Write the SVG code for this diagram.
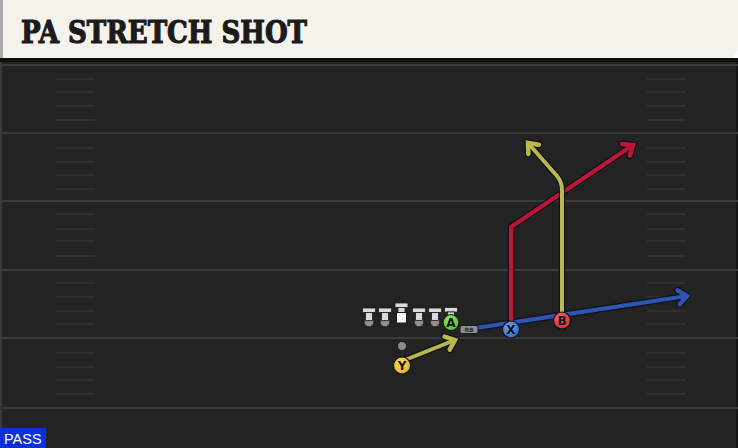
<svg xmlns="http://www.w3.org/2000/svg" width="738" height="448" viewBox="0 0 738 448">
<defs>
<style>
.yl{stroke:#3b3b3b;stroke-width:2}
.hm{stroke:#343434;stroke-width:1.6}
.ol{fill:none;stroke:#121212;stroke-width:6.5;stroke-linejoin:round}
.rt{fill:none;stroke-width:4;stroke-linejoin:round}
.lbl{font-family:"DejaVu Sans","Liberation Sans",sans-serif;font-weight:bold;font-size:12px;fill:#111;text-anchor:middle}
.tb{fill:#d9d9d9;stroke:#1a1a1a;stroke-width:0.8}
.tc{fill:#8e8e8e;stroke:#1a1a1a;stroke-width:0.8}
</style>
<marker id="ahK" viewBox="-14 -14 28 28" markerWidth="28" markerHeight="28" refX="0" refY="0" orient="auto" markerUnits="userSpaceOnUse"><path d="M-8.5,-7 L0,0 L-8.5,7" fill="none" stroke="#121212" stroke-width="7" stroke-linejoin="miter" stroke-linecap="round"/></marker>
<marker id="ahR" viewBox="-14 -14 28 28" markerWidth="28" markerHeight="28" refX="0" refY="0" orient="auto" markerUnits="userSpaceOnUse"><path d="M-8.5,-7 L0,0 L-8.5,7" fill="none" stroke="#c0143a" stroke-width="4.5" stroke-linejoin="miter" stroke-linecap="round"/></marker>
<marker id="ahY" viewBox="-14 -14 28 28" markerWidth="28" markerHeight="28" refX="0" refY="0" orient="auto" markerUnits="userSpaceOnUse"><path d="M-8.5,-7 L0,0 L-8.5,7" fill="none" stroke="#bab650" stroke-width="4.5" stroke-linejoin="miter" stroke-linecap="round"/></marker>
<marker id="ahB" viewBox="-14 -14 28 28" markerWidth="28" markerHeight="28" refX="0" refY="0" orient="auto" markerUnits="userSpaceOnUse"><path d="M-8.5,-7 L0,0 L-8.5,7" fill="none" stroke="#2d55b5" stroke-width="4.5" stroke-linejoin="miter" stroke-linecap="round"/></marker>
<radialGradient id="gX" cx="0.4" cy="0.35" r="0.7"><stop offset="0" stop-color="#6aa0f0"/><stop offset="1" stop-color="#2e66c8"/></radialGradient>
<radialGradient id="gB" cx="0.4" cy="0.35" r="0.7"><stop offset="0" stop-color="#f46a70"/><stop offset="1" stop-color="#d02a36"/></radialGradient>
<radialGradient id="gA" cx="0.4" cy="0.35" r="0.7"><stop offset="0" stop-color="#8ef060"/><stop offset="1" stop-color="#4cc02c"/></radialGradient>
<radialGradient id="gY" cx="0.4" cy="0.35" r="0.7"><stop offset="0" stop-color="#f8dc5a"/><stop offset="1" stop-color="#e0b420"/></radialGradient>
</defs>

<g id="field">
<rect x="0" y="58" width="738" height="390" fill="#232323"/>
<rect x="0" y="58" width="738" height="4" fill="#111"/>
<rect x="0" y="62" width="2" height="386" fill="#383838"/>
<rect x="736" y="62" width="2" height="386" fill="#151515"/>
<line class="yl" x1="0" y1="65" x2="738" y2="65"/>
<line class="yl" x1="0" y1="133" x2="738" y2="133"/>
<line class="yl" x1="0" y1="201" x2="738" y2="201"/>
<line class="yl" x1="0" y1="270" x2="738" y2="270"/>
<line class="yl" x1="0" y1="338" x2="738" y2="338"/>
<line class="yl" x1="0" y1="408" x2="738" y2="408"/>
<g id="hashes-left" class="hm">
<line x1="56" y1="79" x2="95" y2="79"/><line x1="56" y1="92" x2="95" y2="92"/><line x1="56" y1="106" x2="95" y2="106"/><line x1="56" y1="120" x2="95" y2="120"/>
<line x1="56" y1="148" x2="95" y2="148"/><line x1="56" y1="162" x2="95" y2="162"/><line x1="56" y1="175" x2="95" y2="175"/><line x1="56" y1="189" x2="95" y2="189"/>
<line x1="56" y1="214" x2="95" y2="214"/><line x1="56" y1="229" x2="95" y2="229"/><line x1="56" y1="241" x2="95" y2="241"/><line x1="56" y1="256" x2="95" y2="256"/>
<line x1="56" y1="283" x2="95" y2="283"/><line x1="56" y1="297" x2="95" y2="297"/><line x1="56" y1="311" x2="95" y2="311"/><line x1="56" y1="324" x2="95" y2="324"/>
<line x1="56" y1="353" x2="95" y2="353"/><line x1="56" y1="367" x2="95" y2="367"/><line x1="56" y1="380" x2="95" y2="380"/><line x1="56" y1="394" x2="95" y2="394"/>
</g>
<g id="hashes-right" class="hm">
<line x1="647" y1="79" x2="686" y2="79"/><line x1="647" y1="92" x2="686" y2="92"/><line x1="647" y1="106" x2="686" y2="106"/><line x1="647" y1="120" x2="686" y2="120"/>
<line x1="647" y1="148" x2="686" y2="148"/><line x1="647" y1="162" x2="686" y2="162"/><line x1="647" y1="175" x2="686" y2="175"/><line x1="647" y1="189" x2="686" y2="189"/>
<line x1="647" y1="214" x2="686" y2="214"/><line x1="647" y1="229" x2="686" y2="229"/><line x1="647" y1="241" x2="686" y2="241"/><line x1="647" y1="256" x2="686" y2="256"/>
<line x1="647" y1="283" x2="686" y2="283"/><line x1="647" y1="297" x2="686" y2="297"/><line x1="647" y1="311" x2="686" y2="311"/><line x1="647" y1="324" x2="686" y2="324"/>
<line x1="647" y1="353" x2="686" y2="353"/><line x1="647" y1="367" x2="686" y2="367"/><line x1="647" y1="380" x2="686" y2="380"/><line x1="647" y1="394" x2="686" y2="394"/>
</g>
</g>

<g id="header">
<polygon points="0,0 738,0 738,50 733,58 0,58" fill="#f5f2eb"/>
<rect x="0" y="0" width="3" height="58" fill="#a9a9a9"/>
<text x="21" y="43" font-family="'DejaVu Serif','Liberation Serif',serif" font-weight="bold" font-size="31" fill="#1b1b1b" stroke="#1b1b1b" stroke-width="1.2" textLength="286" lengthAdjust="spacingAndGlyphs">PA STRETCH SHOT</text>
</g>

<g id="connectors">
<path class="ol" d="M476,328 L687,296" marker-end="url(#ahK)"/>
<path class="rt" d="M476,328 L687,296" stroke="#2d55b5" marker-end="url(#ahB)"/>
<path class="ol" d="M511,322 V227 L633,145" marker-end="url(#ahK)"/>
<path class="rt" d="M511,322 V227 L633,145" stroke="#c0143a" marker-end="url(#ahR)"/>
<path class="ol" d="M562,313 V190 Q562,182 557,176 L528,143" marker-end="url(#ahK)"/>
<path class="rt" d="M562,313 V190 Q562,182 557,176 L528,143" stroke="#bab650" marker-end="url(#ahY)"/>
<path class="ol" d="M405,360 L455,340" marker-end="url(#ahK)"/>
<path class="rt" d="M405,360 L455,340" stroke="#bab650" marker-end="url(#ahY)"/>
</g>

<g id="linemen">
<g id="lt"><circle class="tc" cx="369" cy="322" r="4.8"/><rect class="tb" x="362.5" y="308" width="13" height="4.5"/><rect class="tb" x="365.5" y="312.5" width="7" height="8"/></g>
<g id="lg"><circle class="tc" cx="385" cy="322" r="4.8"/><rect class="tb" x="378.5" y="308" width="13" height="4.5"/><rect class="tb" x="381.5" y="312.5" width="7" height="8"/></g>
<g id="c"><rect class="tb" x="395" y="303" width="13" height="4.5"/><rect class="tb" x="398" y="307.5" width="7" height="5"/><rect x="396.5" y="312.5" width="10" height="10.5" fill="#fafafa" stroke="#1a1a1a" stroke-width="1"/></g>
<g id="rg"><circle class="tc" cx="419" cy="322" r="4.8"/><rect class="tb" x="412.5" y="308" width="13" height="4.5"/><rect class="tb" x="415.5" y="312.5" width="7" height="8"/></g>
<g id="rt"><circle class="tc" cx="435" cy="322" r="4.8"/><rect class="tb" x="428.5" y="308" width="13" height="4.5"/><rect class="tb" x="431.5" y="312.5" width="7" height="8"/></g>
<g id="te"><rect class="tb" x="444.5" y="307.5" width="13" height="4.5"/><rect class="tb" x="447.5" y="312" width="7" height="6"/></g>
</g>

<g id="qb"><circle cx="402" cy="346" r="4.5" fill="#8c8c8c" stroke="#1a1a1a" stroke-width="1"/></g>

<g id="rb"><rect x="460" y="325.5" width="18" height="8" rx="2" fill="#8f8f8f" stroke="#1a1a1a" stroke-width="1"/><text x="469" y="332" font-family="'DejaVu Sans','Liberation Sans',sans-serif" font-size="6" font-weight="bold" fill="#2a2a2a" text-anchor="middle">RB</text></g>

<g id="A"><circle cx="451" cy="322.5" r="8" fill="url(#gA)" stroke="#141414" stroke-width="1.2"/><text class="lbl" x="451" y="327">A</text></g>
<g id="X"><circle cx="511" cy="329.5" r="8.5" fill="url(#gX)" stroke="#141414" stroke-width="1.2"/><text class="lbl" x="511" y="334">X</text></g>
<g id="B"><circle cx="562" cy="320.5" r="8.5" fill="url(#gB)" stroke="#141414" stroke-width="1.2"/><text class="lbl" x="562" y="325">B</text></g>
<g id="Y"><circle cx="402" cy="365.5" r="8.5" fill="url(#gY)" stroke="#141414" stroke-width="1.2"/><text class="lbl" x="402" y="370">Y</text></g>

<g id="pass-tag">
<rect x="0" y="428" width="46" height="20" fill="#0b2fd8"/>
<text x="4" y="444" font-family="'Liberation Sans',Arial,sans-serif" font-size="14.5" fill="#ffffff">PASS</text>
</g>
</svg>
